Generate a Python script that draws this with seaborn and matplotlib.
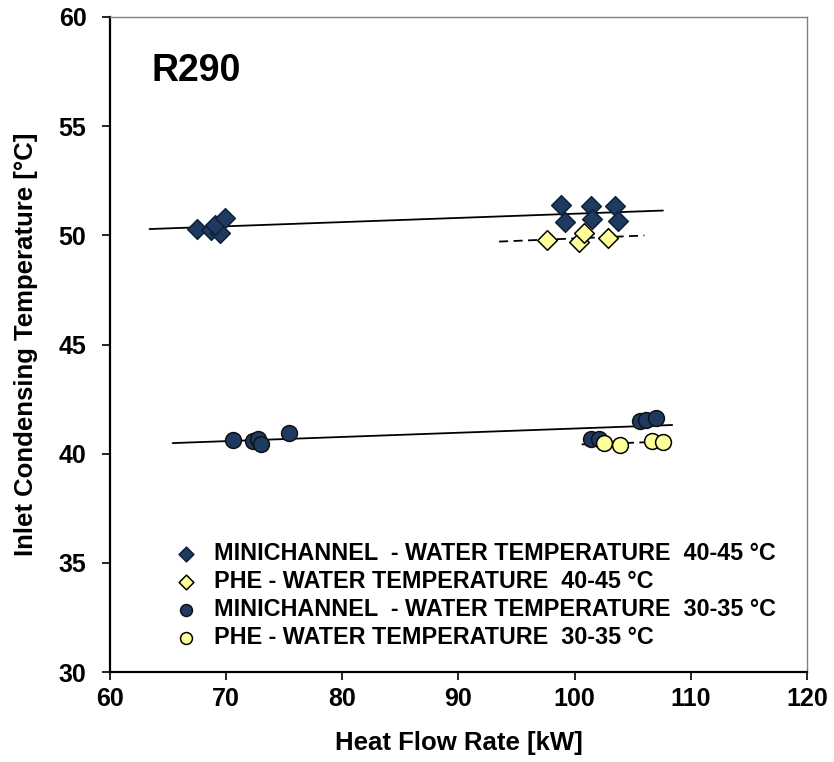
import numpy as np
import pandas as pd
import matplotlib
matplotlib.use("Agg")
import matplotlib.pyplot as plt
import seaborn as sns

# Heat flow rate [kW] and inlet condensing temperature [°C] per configuration
mini_hot_q = [67.5, 68.7, 69.5, 69.0, 69.9, 98.8, 99.2, 101.4, 101.5, 103.5, 103.7]
mini_hot_t = [50.30, 50.26, 50.11, 50.49, 50.80, 51.40, 50.59, 51.36, 50.75, 51.33, 50.67]

phe_hot_q = [97.6, 100.4, 100.8, 102.9]
phe_hot_t = [49.80, 49.68, 50.11, 49.88]

mini_cold_q = [70.6, 72.3, 72.7, 73.0, 75.4, 101.4, 102.1, 105.6, 106.1, 107.0]
mini_cold_t = [40.63, 40.58, 40.69, 40.43, 40.96, 40.69, 40.69, 41.50, 41.53, 41.62]

phe_cold_q = [102.5, 103.9, 106.7, 107.6]
phe_cold_t = [40.51, 40.40, 40.58, 40.53]

series_labels = [
    "MINICHANNEL  - WATER TEMPERATURE  40-45 °C",
    "PHE - WATER TEMPERATURE  40-45 °C",
    "MINICHANNEL  - WATER TEMPERATURE  30-35 °C",
    "PHE - WATER TEMPERATURE  30-35 °C",
]
# Span over which each linear trend line is drawn [kW]
trend_spans = [(63.4, 107.6), (93.5, 106.0), (65.4, 108.4), (100.6, 108.2)]

x_ticks = [60, 70, 80, 90, 100, 110, 120]
y_ticks = [30, 35, 40, 45, 50, 55, 60]

sns.set_theme(style="white")
plt.rcParams["font.family"] = ["Liberation Sans", "DejaVu Sans"]
plt.rcParams["font.weight"] = "bold"
for key in ("text.color", "axes.labelcolor", "xtick.color", "ytick.color"):
    plt.rcParams[key] = "black"

navy = "#1F3A60"
navy_edge = "#0E2038"
pale = "#FFFF99"

fig = plt.figure(figsize=(8.34, 7.62), dpi=100)
ax = fig.add_axes([0.1319, 0.1181, 0.8357, 0.8596])

series = [
    (mini_hot_q, mini_hot_t, "D", navy, navy_edge, 100, "-"),
    (phe_hot_q, phe_hot_t, "D", pale, "black", 100, (0, (5, 3))),
    (mini_cold_q, mini_cold_t, "o", navy, "#111111", 130, "-"),
    (phe_cold_q, phe_cold_t, "o", pale, "black", 130, (0, (5, 3))),
]

for (q, t, mk, fc, ec, size, ls), label, span in zip(series, series_labels, trend_spans):
    df = pd.DataFrame({"q": q, "t": t})
    sns.scatterplot(data=df, x="q", y="t", marker=mk, color=fc, edgecolor=ec,
                    linewidth=1.1, s=size, ax=ax, label=label, zorder=3)
    slope, icpt = np.polyfit(q, t, 1)
    xs = np.array(span)
    ax.plot(xs, slope * xs + icpt, color="black", lw=1.3, ls=ls, zorder=2)

ax.set_xlim(60, 120)
ax.set_ylim(30, 60)
ax.set_xticks(x_ticks)
ax.set_yticks(y_ticks)
ax.tick_params(axis="both", which="major", labelsize=18, length=6, width=1.2,
               direction="out", left=True, bottom=True)
ax.tick_params(axis="x", pad=5)
ax.tick_params(axis="y", pad=11)
for lab in ax.get_xticklabels() + ax.get_yticklabels():
    lab.set_fontweight("bold")

for side in ("left", "bottom"):
    ax.spines[side].set_color("black")
    ax.spines[side].set_linewidth(1.6)
for side in ("top", "right"):
    ax.spines[side].set_color("#808080")
    ax.spines[side].set_linewidth(1.0)

ax.set_xlabel("Heat Flow Rate [kW]", fontsize=18.5, fontweight="bold", labelpad=14)
ax.set_ylabel("Inlet Condensing Temperature [°C]", fontsize=18.5, fontweight="bold", labelpad=15)

ax.text(0.060, 0.918, "R290", transform=ax.transAxes, fontsize=27, fontweight="bold",
        ha="left", va="center")

leg = ax.legend(loc="upper left", bbox_to_anchor=(0.062, 0.213), frameon=False,
                prop={"weight": "bold", "size": 16.8}, markerscale=0.75,
                handletextpad=0.2, labelspacing=0.22, borderaxespad=0)

fig.savefig("out.png", dpi=100)
